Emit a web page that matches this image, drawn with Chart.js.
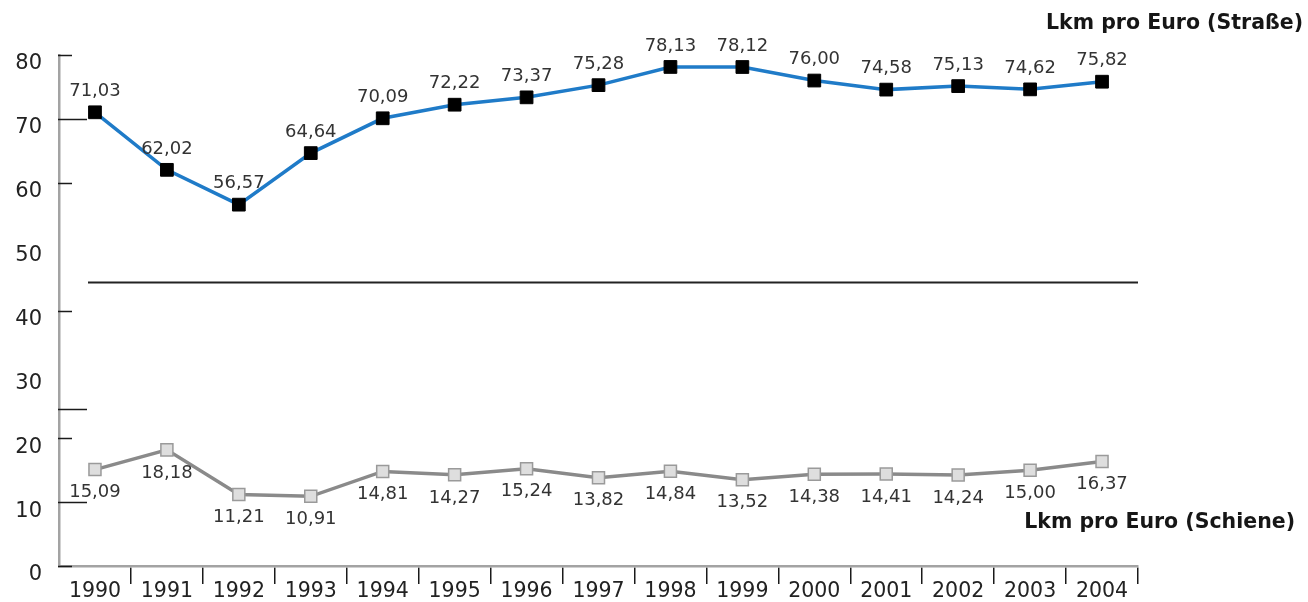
<!DOCTYPE html>
<html>
<head>
<meta charset="utf-8">
<script src="https://cdn.jsdelivr.net/npm/chart.js@4/dist/chart.umd.min.js"></script>
<style>
  html, body { margin: 0; padding: 0; background: #fff; }
  #wrap { width: 1308px; height: 602px; }
</style>
</head>
<body>
<div id="wrap"><canvas id="c" width="1308" height="602"></canvas></div>
<script>
// Years on the category axis
const years = ['1990', '1991', '1992', '1993', '1994', '1995', '1996', '1997',
               '1998', '1999', '2000', '2001', '2002', '2003', '2004'];

// Lkm per euro, road
const strasse = [71.03, 62.02, 56.57, 64.64, 70.09, 72.22, 73.37, 75.28,
                 78.13, 78.12, 76.00, 74.58, 75.13, 74.62, 75.82];

// Lkm per euro, rail
const schiene = [15.09, 18.18, 11.21, 10.91, 14.81, 14.27, 15.24, 13.82,
                 14.84, 13.52, 14.38, 14.41, 14.24, 15.00, 16.37];

// Value axis range and label step
const yMin = 0;
const yMax = 80;
const yStep = 10;

// Inner tick marks along the value axis
const shortMarks = [80, 60, 40, 20, 0];
const longMarks = [70, 24.6, 10];

// Value where the horizontal axis-break rule is drawn
const breakValue = 44.5;

// Series captions
const strasseTitle = 'Lkm pro Euro (Straße)';
const schieneTitle = 'Lkm pro Euro (Schiene)';

const fmt = v => v.toFixed(2).replace('.', ',');

const decor = {
  id: 'decor',
  beforeDatasetsDraw(chart) {
    const { ctx, chartArea: a, scales: { y } } = chart;
    ctx.save();
    ctx.strokeStyle = '#1a1a1a';
    ctx.lineWidth = 1.5;
    const mark = (v, len) => {
      const py = Math.round(y.getPixelForValue(v)) + 0.5;
      ctx.beginPath();
      ctx.moveTo(a.left - 1, py);
      ctx.lineTo(a.left + len, py);
      ctx.stroke();
    };
    shortMarks.forEach(v => mark(v, 13));
    longMarks.forEach(v => mark(v, 28));

    // axis-break rule
    const by = Math.round(y.getPixelForValue(breakValue)) + 0.5;
    ctx.lineWidth = 1.8;
    ctx.strokeStyle = '#222';
    ctx.beginPath();
    ctx.moveTo(a.left + 29, by);
    ctx.lineTo(a.right, by);
    ctx.stroke();
    ctx.restore();
  },
  afterDatasetsDraw(chart) {
    const { ctx } = chart;
    ctx.save();
    ctx.font = '18px "DejaVu Sans"';
    ctx.fillStyle = '#333';
    ctx.textAlign = 'center';
    ctx.textBaseline = 'middle';
    chart.data.datasets.forEach((ds, i) => {
      const meta = chart.getDatasetMeta(i);
      const off = ds.labelAbove ? -21 : 23;
      meta.data.forEach((pt, j) => {
        ctx.fillText(fmt(ds.data[j]), pt.x, pt.y + off);
      });
    });

    // series captions
    ctx.font = 'bold 20.5px "DejaVu Sans"';
    ctx.fillStyle = '#161616';
    ctx.textAlign = 'right';
    ctx.textBaseline = 'alphabetic';
    ctx.fillText(strasseTitle, 1303, 29);
    ctx.fillText(schieneTitle, 1295, 528);
    ctx.restore();
  }
};

new Chart(document.getElementById('c'), {
  type: 'line',
  data: {
    labels: years,
    datasets: [
      {
        label: strasseTitle,
        data: strasse,
        labelAbove: true,
        borderColor: '#1f7bc8',
        borderWidth: 3.5,
        tension: 0,
        pointStyle: 'rect',
        pointRadius: 9,
        pointHoverRadius: 9,
        pointBackgroundColor: '#000',
        pointBorderColor: '#000',
        pointBorderWidth: 1
      },
      {
        label: schieneTitle,
        data: schiene,
        labelAbove: false,
        borderColor: '#8a8a8a',
        borderWidth: 3.5,
        tension: 0,
        pointStyle: 'rect',
        pointRadius: 8.5,
        pointHoverRadius: 8.5,
        pointBackgroundColor: '#dedede',
        pointBorderColor: '#9a9a9a',
        pointBorderWidth: 1.5
      }
    ]
  },
  options: {
    responsive: false,
    animation: false,
    devicePixelRatio: 1,
    clip: false,
    layout: { padding: { top: 55, right: 170, bottom: 0, left: 0 } },
    plugins: {
      legend: { display: false },
      title: { display: false },
      tooltip: { enabled: false }
    },
    scales: {
      x: {
        type: 'category',
        offset: true,
        afterFit: s => { s.height = 36; },
        grid: {
          display: true,
          offset: true,
          drawOnChartArea: false,
          drawTicks: true,
          tickLength: 18,
          lineWidth: 1.5,
          color: c => (c.type === 'tick' && c.index === 0) ? 'rgba(0,0,0,0)' : '#1a1a1a'
        },
        border: { display: true, color: '#a3a3a3', width: 2.5 },
        ticks: {
          padding: -3,
          color: '#222',
          font: { family: 'DejaVu Sans', size: 20.5, lineHeight: 1 },
          maxRotation: 0,
          autoSkip: false
        }
      },
      y: {
        min: yMin,
        max: yMax,
        afterFit: s => { s.width = 59; },
        grid: { display: false, drawTicks: false },
        border: { display: true, color: '#a3a3a3', width: 2.5 },
        ticks: {
          stepSize: yStep,
          padding: 17,
          labelOffset: 9,
          color: '#222',
          font: { family: 'DejaVu Sans', size: 21 }
        }
      }
    }
  },
  plugins: [decor]
});
</script>
</body>
</html>
